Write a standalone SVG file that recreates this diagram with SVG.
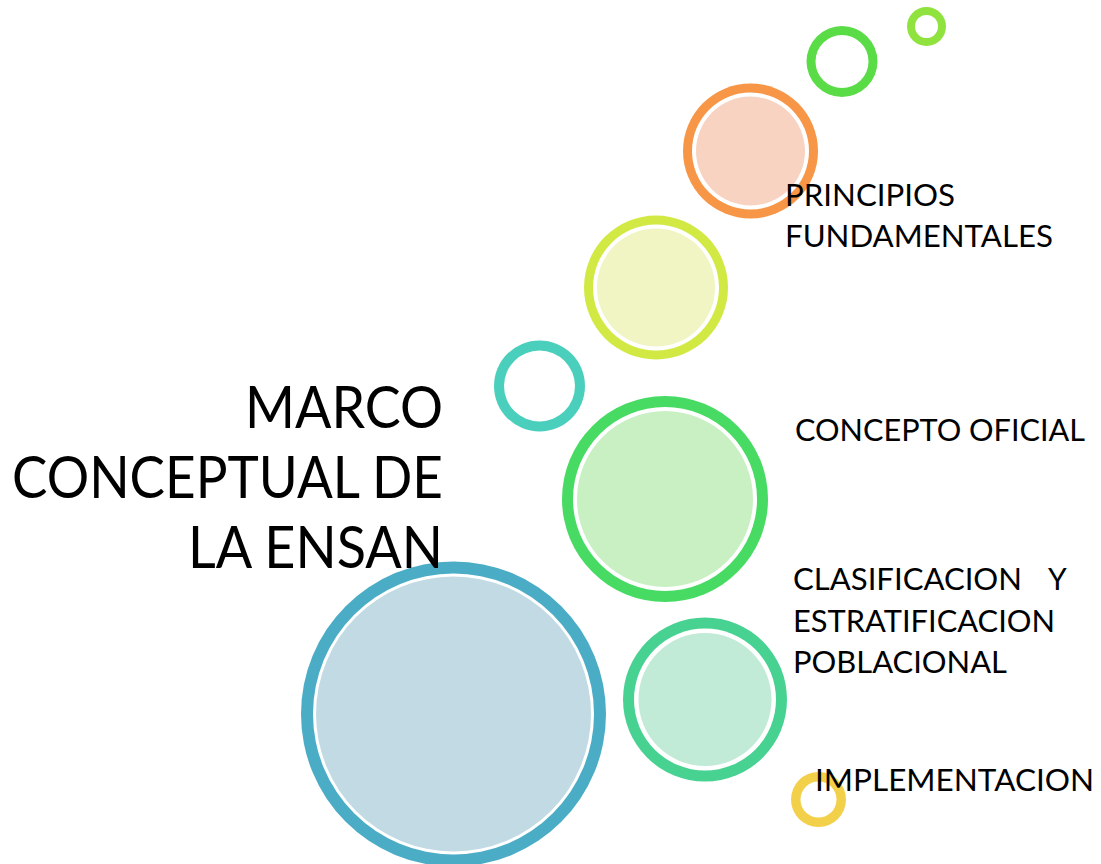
<svg xmlns="http://www.w3.org/2000/svg" width="1101" height="864" viewBox="0 0 1101 864">
<style>
.gap{fill:#ffffff}
.t{font-family:Lato,"Open Sans","Liberation Sans",sans-serif;fill:#000000}
.title{font-size:58px}
.lbl{font-size:30px}
</style>
<rect x="0" y="0" width="1101" height="864" fill="#ffffff"/>
<g id="bubble-main">
<circle cx="453.5" cy="714" r="152.5" fill="#4BACC6"/>
<circle class="gap" cx="453.5" cy="714" r="140.5"/>
<circle cx="453.5" cy="714" r="137.5" fill="#C1DAE3"/>
</g>
<g id="bubble-principios">
<circle cx="750.5" cy="151" r="67.5" fill="#F79646"/>
<circle class="gap" cx="750.5" cy="151" r="58.5"/>
<circle cx="750.5" cy="151" r="54.5" fill="#F8D3C2"/>
</g>
<g id="bubble-yellowgreen">
<circle cx="656" cy="287.5" r="72" fill="#D2E944"/>
<circle class="gap" cx="656" cy="287.5" r="63"/>
<circle cx="656" cy="287.5" r="59" fill="#F1F5C4"/>
</g>
<g id="ring-teal">
<circle cx="539.5" cy="386" r="45.5" fill="#4ACFBD"/>
<circle class="gap" cx="539.5" cy="386" r="35.5"/>
</g>
<g id="bubble-concepto">
<circle cx="665" cy="499" r="103" fill="#47DB63"/>
<circle class="gap" cx="665" cy="499" r="92"/>
<circle cx="665" cy="499" r="88" fill="#C9F0C3"/>
</g>
<g id="bubble-clasificacion">
<circle cx="705" cy="699.5" r="82" fill="#48D292"/>
<circle class="gap" cx="705" cy="699.5" r="71"/>
<circle cx="705" cy="699.5" r="66.5" fill="#C1EBD7"/>
</g>
<g id="ring-green">
<circle cx="842" cy="61.5" r="35.5" fill="#5ADC47"/>
<circle class="gap" cx="842" cy="61.5" r="26.5"/>
</g>
<g id="ring-lime">
<circle cx="926.5" cy="26.5" r="19.5" fill="#90E33E"/>
<circle class="gap" cx="926.5" cy="26.5" r="11.5"/>
</g>
<g id="ring-yellow">
<circle cx="818.5" cy="799.5" r="27.5" fill="#F2D04A"/>
<circle class="gap" cx="818.5" cy="799.5" r="18"/>
</g>
<g id="title">
<text class="t title" x="443" y="428" text-anchor="end" textLength="198" lengthAdjust="spacingAndGlyphs">MARCO</text>
<text class="t title" x="443" y="498" text-anchor="end" textLength="431" lengthAdjust="spacingAndGlyphs">CONCEPTUAL DE</text>
<text class="t title" x="443" y="568" text-anchor="end" textLength="255" lengthAdjust="spacingAndGlyphs">LA ENSAN</text>
</g>
<g id="label-principios">
<text class="t lbl" x="785" y="206" textLength="170" lengthAdjust="spacingAndGlyphs">PRINCIPIOS</text>
<text class="t lbl" x="785" y="247" textLength="268" lengthAdjust="spacingAndGlyphs">FUNDAMENTALES</text>
</g>
<g id="label-concepto">
<text class="t lbl" x="795" y="441" textLength="290" lengthAdjust="spacingAndGlyphs">CONCEPTO OFICIAL</text>
</g>
<g id="label-clasificacion">
<text class="t lbl" x="793" y="590" textLength="229" lengthAdjust="spacingAndGlyphs">CLASIFICACION</text>
<text class="t lbl" x="1048" y="590">Y</text>
<text class="t lbl" x="793" y="632" textLength="262" lengthAdjust="spacingAndGlyphs">ESTRATIFICACION</text>
<text class="t lbl" x="793" y="673" textLength="214" lengthAdjust="spacingAndGlyphs">POBLACIONAL</text>
</g>
<g id="label-implementacion">
<text class="t lbl" x="815" y="791" textLength="279" lengthAdjust="spacingAndGlyphs">IMPLEMENTACION</text>
</g>
</svg>
